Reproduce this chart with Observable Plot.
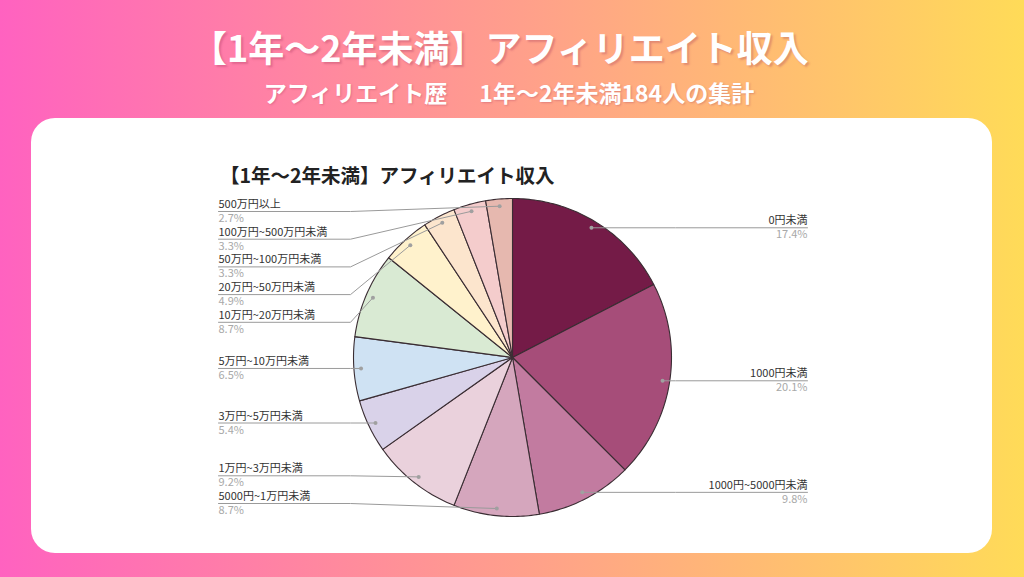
<!DOCTYPE html>
<html><head><meta charset="utf-8">
<script src="https://cdn.jsdelivr.net/npm/d3@7"></script>
<script src="https://cdn.jsdelivr.net/npm/@observablehq/plot@0.6"></script>
<style>
html,body{margin:0;padding:0;}
body{width:1024px;height:577px;overflow:hidden;position:relative;background:linear-gradient(90deg,#ff62c0 0%,#ff9e8c 50%,#ffdb58 100%);font-family:"Noto Sans CJK JP","Noto Sans",sans-serif;}
#title{position:absolute;left:0;width:1000px;top:22px;text-align:center;color:#fff;font-weight:700;font-size:36px;line-height:48px;text-shadow:2px 2px 2px rgba(160,50,90,0.3);}
#subtitle{position:absolute;left:0;width:1018px;top:77px;text-align:center;color:#fff;font-weight:700;font-size:23px;line-height:30px;text-shadow:1px 1px 2px rgba(160,50,90,0.3);}
#subtitle .gap{display:inline-block;width:32px;}
#card{position:absolute;left:31px;top:118px;width:961px;height:435px;background:#fff;border-radius:24px;overflow:hidden;}
#inner{position:absolute;left:189px;top:43px;font-size:19.5px;font-weight:700;color:#222;line-height:28px;white-space:nowrap;}
#chart{position:absolute;left:0;top:0;}
</style>
</head><body>
<div id="title">【1年～2年未満】アフィリエイト収入</div>
<div id="subtitle">アフィリエイト歴<span class="gap"> </span>1年～2年未満184人の集計</div>
<div id="card"><div id="chart"></div><div id="inner">【1年～2年未満】アフィリエイト収入</div></div>
<script>
const categories = ["0円未満","1000円未満","1000円~5000円未満","5000円~1万円未満","1万円~3万円未満","3万円~5万円未満","5万円~10万円未満","10万円~20万円未満","20万円~50万円未満","50万円~100万円未満","100万円~500万円未満","500万円以上"];
const shares = [17.4,20.1,9.8,8.7,9.2,5.4,6.5,8.7,4.9,3.3,3.3,2.7];
const sliceColors = ["#741b47","#a64d79","#c27ba0","#d5a6bd","#ead1dc","#d9d2e9","#cfe2f3","#d9ead3","#fff2cc","#fce5cd","#f4cccc","#e6b8af"];

const W = 961, H = 435;
const cx = 481, cy = 239, R = 159;
const data = categories.map((name, i) => ({name, value: shares[i], color: sliceColors[i]}));
const arcs = d3.pie().sort(null).value(d => d.value)(data);

const pt = (a, r) => [cx + r * Math.sin(a), cy - r * Math.cos(a)];

// slice polygons
const sliceRows = [];
arcs.forEach(a => {
  const n = Math.max(2, Math.ceil((a.endAngle - a.startAngle) / (Math.PI / 180)));
  sliceRows.push({name: a.data.name, color: a.data.color, x: cx, y: cy});
  for (let k = 0; k <= n; k++) {
    const t = a.startAngle + (a.endAngle - a.startAngle) * k / n;
    const [x, y] = pt(t, R);
    sliceRows.push({name: a.data.name, color: a.data.color, x, y});
  }
  sliceRows.push({name: a.data.name, color: a.data.color, x: cx, y: cy});
});

// labels
const labels = arcs.map(a => {
  const mid = (a.startAngle + a.endAngle) / 2;
  const [dx, dy] = pt(mid, R * 0.955);
  return {name: a.data.name, pct: a.data.value.toFixed(1) + "%", dx, dy, left: mid > Math.PI};
});
function layout(list, top, bottom, gap) {
  list.sort((a, b) => a.dy - b.dy);
  let prev = -Infinity;
  list.forEach(l => { l.ly = Math.max(l.dy, prev + gap, top); prev = l.ly; });
  let next = Infinity;
  for (let i = list.length - 1; i >= 0; i--) { const l = list[i]; l.ly = Math.min(l.ly, next - gap, bottom); next = l.ly; }
}
const leftL = labels.filter(l => l.left), rightL = labels.filter(l => !l.left);
layout(leftL, 93, 385, 27.7);
layout(rightL, 93, 385, 27.7);
const LX = 187, RX = 776, LE = cx - R - 3, RE = cx + R + 4;
const leaderRows = [];
leftL.forEach(l => { leaderRows.push({k: l.name, x: LX, y: l.ly}, {k: l.name, x: Math.min(LE, l.dx), y: l.ly}, {k: l.name, x: l.dx, y: l.dy}); });
rightL.forEach(l => { leaderRows.push({k: l.name, x: RX, y: l.ly}, {k: l.name, x: Math.max(RE, l.dx), y: l.ly}, {k: l.name, x: l.dx, y: l.dy}); });

const font = '"Noto Sans CJK JP","Noto Sans",sans-serif';
const chart = Plot.plot({
  width: W, height: H, margin: 0,
  x: {domain: [0, W], range: [0, W], axis: null},
  y: {domain: [0, H], range: [0, H], axis: null},
  color: {type: "identity"},
  style: {fontFamily: font, background: "transparent"},
  marks: [
    Plot.line(sliceRows, {x: "x", y: "y", z: "name", fill: "color", stroke: "#3a2d33", strokeWidth: 1.1, strokeLinejoin: "round"}),
    Plot.line(leaderRows, {x: "x", y: "y", z: "k", stroke: "#9a9a9a", strokeWidth: 1}),
    Plot.dot(labels, {x: "dx", y: "dy", r: 2, fill: "#a0a0a0", stroke: null}),
    Plot.text(leftL, {x: LX, y: d => d.ly - 7, text: "name", textAnchor: "start", lineAnchor: "middle", fontSize: 11, fill: "#333"}),
    Plot.text(leftL, {x: LX, y: d => d.ly + 7, text: "pct", textAnchor: "start", lineAnchor: "middle", fontSize: 11, fill: "#a8a8a8"}),
    Plot.text(rightL, {x: RX, y: d => d.ly - 7, text: "name", textAnchor: "end", lineAnchor: "middle", fontSize: 11, fill: "#333"}),
    Plot.text(rightL, {x: RX, y: d => d.ly + 7, text: "pct", textAnchor: "end", lineAnchor: "middle", fontSize: 11, fill: "#a8a8a8"})
  ]
});
document.getElementById("chart").appendChild(chart);
</script>
</body></html>
